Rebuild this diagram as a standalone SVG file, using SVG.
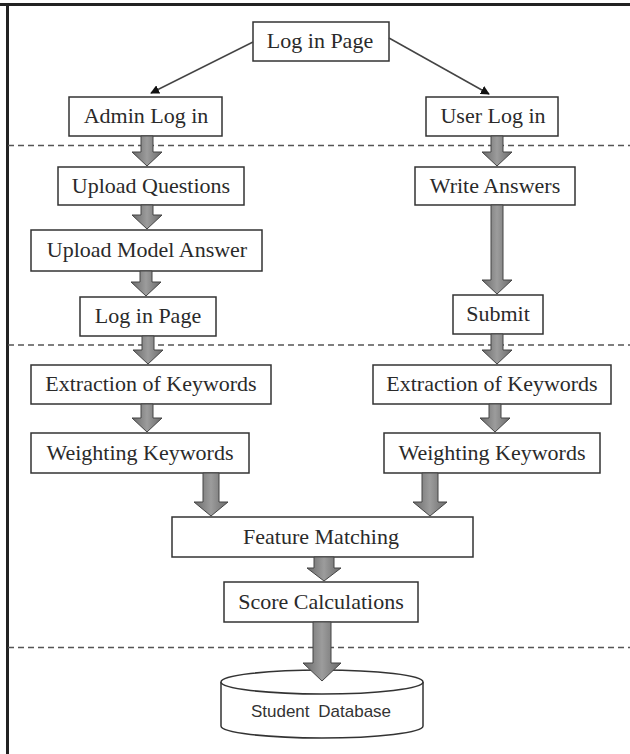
<svg xmlns="http://www.w3.org/2000/svg" width="630" height="754" viewBox="0 0 630 754">
<style>
.box{fill:#fff;stroke:#333;stroke-width:1.5}
.t{font-family:"Liberation Serif","Times New Roman",serif;font-size:22px;fill:#2a2a2a;text-anchor:middle}
.ts{font-family:"Liberation Sans",Arial,sans-serif;font-size:17px;fill:#333;text-anchor:middle;word-spacing:4px}
.dash{stroke:#555;stroke-width:1.5;stroke-dasharray:6 4;fill:none}
.ln{stroke:#444;stroke-width:1.5;fill:none}
.blk{fill:url(#g);stroke:#444;stroke-width:1}
</style>
<defs>
<linearGradient id="g" x1="0" y1="0" x2="1" y2="0">
<stop offset="0" stop-color="#6a6a6a"/>
<stop offset="0.5" stop-color="#9c9c9c"/>
<stop offset="1" stop-color="#6a6a6a"/>
</linearGradient>
<marker id="ah" viewBox="0 0 10 10" refX="9" refY="5" markerWidth="9" markerHeight="9" markerUnits="userSpaceOnUse" orient="auto">
<path d="M0,0 L10,5 L0,10 Z" fill="#111"/>
</marker>
</defs>
<rect width="630" height="754" fill="#fff"/>
<g id="frame">
<line x1="0" y1="4.5" x2="630" y2="4.5" stroke="#222" stroke-width="3"/>
<line x1="7.5" y1="3" x2="7.5" y2="754" stroke="#222" stroke-width="3"/>
<line x1="8" y1="145.5" x2="630" y2="145.5" class="dash"/>
<line x1="8" y1="345" x2="630" y2="345" class="dash"/>
<line x1="8" y1="647.5" x2="630" y2="647.5" class="dash"/>
</g>
<g id="n_login">
<rect class="box" x="253" y="22" width="136" height="39"/>
<text class="t" x="320" y="48">Log in Page</text>
</g>
<g id="n_admin">
<rect class="box" x="69" y="97" width="153" height="39"/>
<text class="t" x="146" y="123">Admin Log in</text>
</g>
<g id="n_user">
<rect class="box" x="426" y="97" width="132" height="39"/>
<text class="t" x="493" y="123">User Log in</text>
</g>
<g id="n_upq">
<rect class="box" x="58" y="167" width="186" height="38"/>
<text class="t" x="151" y="193">Upload Questions</text>
</g>
<g id="n_write">
<rect class="box" x="415" y="167" width="160" height="38"/>
<text class="t" x="495" y="193">Write Answers</text>
</g>
<g id="n_upm">
<rect class="box" x="31" y="230" width="231" height="41"/>
<text class="t" x="147" y="257">Upload Model Answer</text>
</g>
<g id="n_login2">
<rect class="box" x="80" y="297" width="136" height="39"/>
<text class="t" x="148" y="323">Log in Page</text>
</g>
<g id="n_submit">
<rect class="box" x="453" y="295" width="90" height="39"/>
<text class="t" x="498" y="321">Submit</text>
</g>
<g id="n_extl">
<rect class="box" x="31" y="365" width="240" height="39"/>
<text class="t" x="151" y="391">Extraction of Keywords</text>
</g>
<g id="n_extr">
<rect class="box" x="373" y="365" width="238" height="39"/>
<text class="t" x="492" y="391">Extraction of Keywords</text>
</g>
<g id="n_wl">
<rect class="box" x="31" y="433" width="218" height="40"/>
<text class="t" x="140" y="460">Weighting Keywords</text>
</g>
<g id="n_wr">
<rect class="box" x="384" y="433" width="216" height="40"/>
<text class="t" x="492" y="460">Weighting Keywords</text>
</g>
<g id="n_fm">
<rect class="box" x="172" y="517" width="301" height="40"/>
<text class="t" x="321" y="544">Feature Matching</text>
</g>
<g id="n_sc">
<rect class="box" x="224" y="582" width="194" height="40"/>
<text class="t" x="321" y="609">Score Calculations</text>
</g>
<g id="n_db">
<path class="box" d="M221,682 L221,726 A101,12 0 0 0 423,726 L423,682"/>
<ellipse class="box" cx="322" cy="682" rx="101" ry="12"/>
<text class="ts" x="321" y="717">Student Database</text>
</g>
<g id="connectors">
<line class="ln" x1="253" y1="42" x2="151" y2="93" marker-end="url(#ah)"/>
<line class="ln" x1="389" y1="38" x2="489" y2="94" marker-end="url(#ah)"/>
<path class="blk" d="M141,136 L153,136 L153,152 L162,152 L147,166 L132,152 L141,152 Z"/>
<path class="blk" d="M491,136 L503,136 L503,152 L512,152 L497,166 L482,152 L491,152 Z"/>
<path class="blk" d="M141,205 L153,205 L153,215 L162,215 L147,229 L132,215 L141,215 Z"/>
<path class="blk" d="M140,271 L152,271 L152,282 L161,282 L146,296 L131,282 L140,282 Z"/>
<path class="blk" d="M491,205 L503,205 L503,280 L512,280 L497,294 L482,280 L491,280 Z"/>
<path class="blk" d="M142,336 L154,336 L154,350 L163,350 L148,364 L133,350 L142,350 Z"/>
<path class="blk" d="M491,334 L503,334 L503,350 L512,350 L497,364 L482,350 L491,350 Z"/>
<path class="blk" d="M141,404 L153,404 L153,418 L162,418 L147,432 L132,418 L141,418 Z"/>
<path class="blk" d="M489,404 L501,404 L501,418 L510,418 L495,432 L480,418 L489,418 Z"/>
<path class="blk" d="M203,473 L219,473 L219,502 L228,502 L211,516 L194,502 L203,502 Z"/>
<path class="blk" d="M422,473 L438,473 L438,502 L447,502 L430,516 L413,502 L422,502 Z"/>
<path class="blk" d="M314,557 L334,557 L334,568 L341,568 L324,581 L307,568 L314,568 Z"/>
<path class="blk" d="M313,622 L331,622 L331,663 L341,663 L322,681 L303,663 L313,663 Z"/>
</g>
</svg>
